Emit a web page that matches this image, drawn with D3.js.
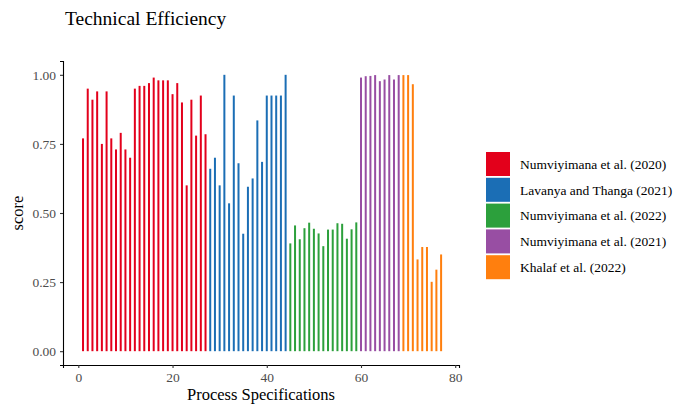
<!DOCTYPE html>
<html>
<head>
<meta charset="utf-8">
<script src="https://cdn.jsdelivr.net/npm/d3@7"></script>
<style>
  body { margin: 0; background: #fff; }
  text { font-family: "Liberation Serif", "Times New Roman", serif; }
</style>
</head>
<body>
<div class="chart-container"></div>
<script>
// Studies (legend order) and their colours
const studies = ["Numviyimana et al. (2020)", "Lavanya and Thanga (2021)", "Numviyimana et al. (2022)",
                 "Numviyimana et al. (2021)", "Khalaf et al. (2022)"];
const colors = ["#E3001B", "#1B6EB5", "#2CA03C", "#984EA3", "#FF7F0E"];

// Scores per study, in process-specification order (1..77)
const scores2020 = [0.77, 0.95, 0.91, 0.94, 0.75, 0.94, 0.77, 0.73, 0.79, 0.73, 0.70, 0.95, 0.96, 0.96,
                    0.97, 0.99, 0.98, 0.98, 0.98, 0.93, 0.97, 0.90, 0.60, 0.91, 0.78, 0.925, 0.785];
const scoresLavanya = [0.66, 0.70, 0.60, 1.00, 0.535, 0.925, 0.68, 0.425, 0.595, 0.625, 0.835, 0.685,
                       0.925, 0.925, 0.925, 0.925, 1.00];
const scores2022 = [0.39, 0.455, 0.405, 0.445, 0.465, 0.443, 0.426, 0.38, 0.44, 0.44, 0.463, 0.461,
                    0.407, 0.441, 0.466];
const scores2021 = [0.99, 0.995, 0.996, 0.999, 0.977, 0.983, 0.999, 0.983, 0.999];
const scoresKhalaf = [0.999, 0.999, 0.966, 0.332, 0.377, 0.377, 0.251, 0.295, 0.35];

const xTicks = [0, 20, 40, 60, 80];
const yTicks = [0, 0.25, 0.5, 0.75, 1];

function drawChart() {
    const width = 688, height = 406;

    const svg = d3.select(".chart-container")
        .append("svg")
        .attr("width", width)
        .attr("height", height);

    // flatten the series into one row per bar
    const data = [];
    [scores2020, scoresLavanya, scores2022, scores2021, scoresKhalaf].forEach((s, i) => {
        s.forEach(v => data.push({x: data.length + 1, score: v, study: studies[i]}));
    });

    const xScale = d3.scaleLinear().domain([-3.25, 80.8]).range([63, 459]);
    const yScale = d3.scaleLinear().domain([-0.05, 1.05]).range([365, 61]);
    const colorScale = d3.scaleOrdinal().domain(studies).range(colors);

    // bars
    svg.selectAll(".bar")
        .data(data)
        .enter()
        .append("rect")
        .attr("class", "bar")
        .attr("x", d => xScale(d.x) - 1)
        .attr("width", 2)
        .attr("y", d => yScale(d.score))
        .attr("height", d => yScale(0) - yScale(d.score))
        .style("fill", d => colorScale(d.study));

    // x axis
    const xAxis = svg.append("g")
        .attr("transform", `translate(0, ${yScale.range()[0]})`)
        .call(d3.axisBottom(xScale).tickValues(xTicks).tickSizeOuter(0).tickSize(3).tickPadding(4));
    // y axis
    const yAxis = svg.append("g")
        .attr("transform", `translate(${xScale.range()[0]}, 0)`)
        .call(d3.axisLeft(yScale).tickValues(yTicks).tickFormat(d3.format(".2f"))
            .tickSizeOuter(0).tickSize(3).tickPadding(4));

    [xAxis, yAxis].forEach(a => {
        a.attr("font-family", null).attr("font-size", null);
        a.select(".domain").attr("stroke", "#000").attr("stroke-width", 1.1);
        a.selectAll(".tick line").attr("stroke", "#333").attr("stroke-width", 1.1);
        a.selectAll(".tick text")
            .attr("fill", "#4d4d4d")
            .style("font-size", "13.5px");
    });

    // titles
    svg.append("text")
        .attr("x", 65).attr("y", 25)
        .style("font-size", "19.5px")
        .text("Technical Efficiency");

    svg.append("text")
        .attr("x", (xScale.range()[0] + xScale.range()[1]) / 2)
        .attr("y", 400)
        .attr("text-anchor", "middle")
        .style("font-size", "16.5px")
        .text("Process Specifications");

    svg.append("text")
        .attr("transform", `translate(23, ${(yScale.range()[0] + yScale.range()[1]) / 2}) rotate(-90)`)
        .attr("text-anchor", "middle")
        .style("font-size", "16.5px")
        .text("score");

    // legend
    const legend = svg.append("g").attr("transform", "translate(486, 152)");
    const keys = legend.selectAll(".key")
        .data(studies)
        .enter()
        .append("g")
        .attr("class", "key")
        .attr("transform", (d, i) => `translate(0, ${i * 25.8})`);
    keys.append("rect")
        .attr("width", 24).attr("height", 24)
        .style("fill", d => colorScale(d));
    keys.append("text")
        .attr("x", 34).attr("y", 12)
        .attr("dy", "0.35em")
        .style("font-size", "13.5px")
        .text(d => d);
}

drawChart();
</script>
</body>
</html>
